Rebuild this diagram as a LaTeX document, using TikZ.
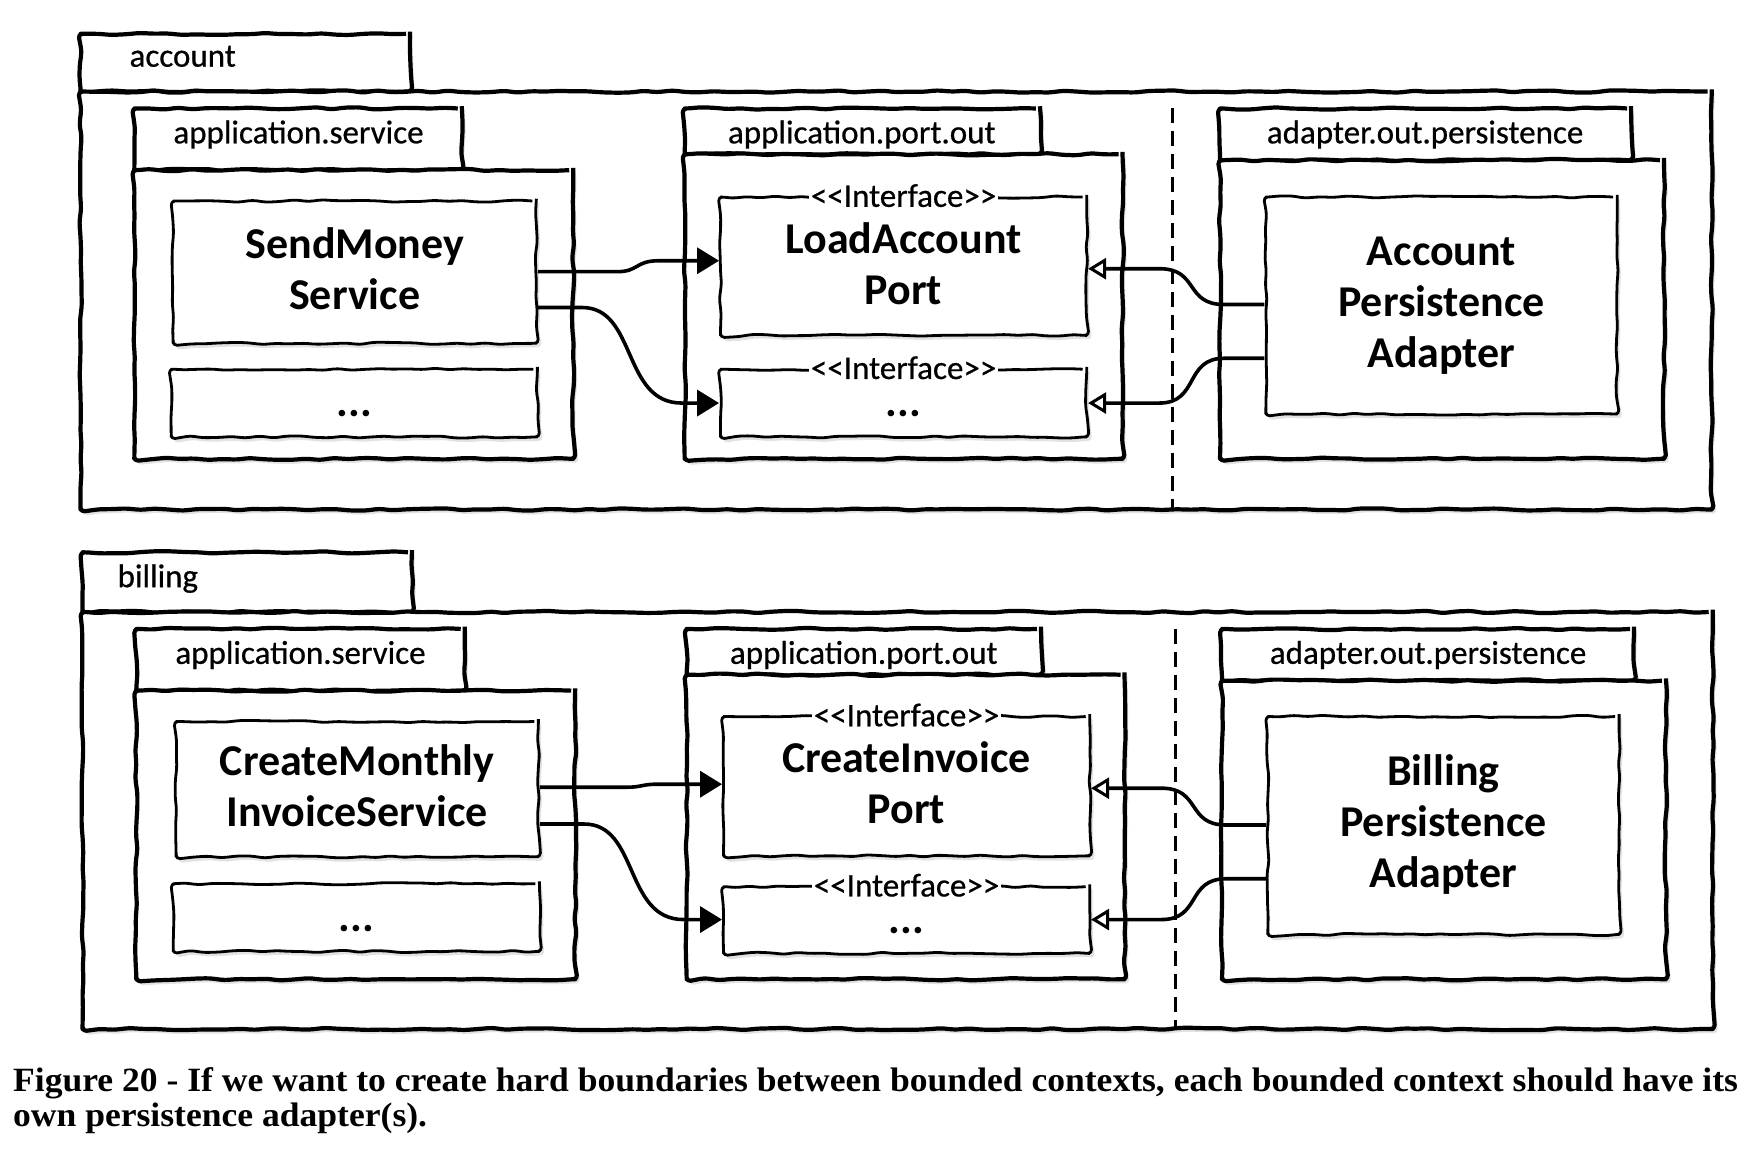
\documentclass[tikz,border=0pt]{standalone}
\usepackage{fontspec}
\newfontfamily\calib{Carlito}
\newfontfamily\calibm{Carlito}[FakeBold=0.6]
\newfontfamily\capfont{Liberation Serif}
\usetikzlibrary{arrows.meta,shadows,fit,decorations.pathmorphing}
\newsavebox\capboxA
\newsavebox\capboxB
\newlength\capw
\begin{document}
\sbox\capboxA{\capfont\bfseries\fontsize{34}{36}\selectfont Figure 20 - If we want to create hard boundaries between bounded contexts, each bounded context should have its}%
\sbox\capboxB{\capfont\bfseries\fontsize{34}{36}\selectfont own persistence adapter(s).}%
\setlength\capw{\wd\capboxA}%
\begin{tikzpicture}[x=1pt,y=-1pt,line join=round,
  sk/.style={decorate,decoration={random steps,segment length=14pt,amplitude=1.2pt},rounded corners=4pt},
  shd/.style={drop shadow={shadow xshift=3pt,shadow yshift=-4pt,fill=black!22}},
  frame/.style={draw,line width=4.2pt,fill=white,inner sep=0pt,sk,shd},
  clsbox/.style={draw,line width=2.8pt,fill=white,inner sep=0pt,sk,shd},
  clstext/.style={inner sep=0pt,align=center,font=\calib\bfseries\fontsize{44}{51}\selectfont},
  pkgname/.style={font=\calibm\fontsize{33}{40}\selectfont,inner sep=0pt},
  iface/.style={fill=white,inner sep=2pt,font=\calibm\fontsize{33}{33}\selectfont},
  flow/.style={line width=3.6pt,-{Triangle[length=22pt,width=26pt]}},
  realize/.style={line width=3.6pt,-{Triangle[open,length=18pt,width=21pt,line width=3pt]}},
  divider/.style={line width=3.5pt,dash pattern=on 15pt off 8pt},
  captext/.style={inner sep=0pt,anchor=base west}
]
\pgfmathsetseed{7}
\pgfmathsetmacro\capsc{1725pt/\capw}
\useasboundingbox[fill=white] (0,0) rectangle (1754,1154);

\begin{scope}[scale=0.9952]
% ================= account =================
\node[frame, fit={(81,34) (412,92)}] (acctab) {};
\node[frame, fit={(81,92) (1720,512)}] (accpkg) {};
\node[pkgname, anchor=base west] (acclbl) at (130,67) {account};
\coordinate (adt) at (1178,109);
\coordinate (adb) at (1178,512);
\draw[divider] (adt) -- (adb);

\node[frame, fit={(135,109) (464,171)}] (asvctab) {};
\node[frame, fit={(135,171) (576,461)}] (asvc) {};
\node[pkgname, anchor=base] (asvclbl) at (300,144) {application.service};

\node[frame, fit={(688,109) (1045,155)}] (aporttab) {};
\node[frame, fit={(688,155) (1128,461)}] (aport) {};
\node[pkgname, anchor=base] (aportlbl) at (866,144) {application.port.out};

\node[frame, fit={(1226,109) (1639,161)}] (aadptab) {};
\node[frame, fit={(1226,161) (1672,461)}] (aadp) {};
\node[pkgname, anchor=base] (aadplbl) at (1432,144) {adapter.out.persistence};

\node[clsbox, fit={(174,202) (539,345)}] (sm) {};
\node[clsbox, fit={(172,371) (540,439)}] (asdots) {};
\node[clsbox, fit={(724,198) (1092,337)}] (lap) {};
\node[clsbox, fit={(724,371) (1092,439)}] (apdots) {};
\node[clsbox, fit={(1272,198) (1625,416)}] (apa) {};
\node[clstext] (smt) at ([yshift=3pt]sm.center) {SendMoney\\Service};
\node[clstext] (asdotst) at ([yshift=-11pt]asdots.center) {...};
\node[clstext] (lapt) at ([yshift=2pt]lap.center) {LoadAccount\\Port};
\node[clstext] (apdotst) at ([yshift=-11pt]apdots.center) {...};
\node[clstext] (apat) at ([yshift=0pt]apa.center) {Account\\Persistence\\Adapter};
\node[iface] (ai1) at (lap.north) {<<Interface>>};
\node[iface] (ai2) at (apdots.north) {<<Interface>>};

\draw[flow] (sm.east |- 0,273) -- (620,273) .. controls (642,273) and (638,262) .. (662,262) -- (lap.west |- 0,262);
\draw[flow] (sm.east |- 0,309) -- (585,309) .. controls (640,309) and (625,405) .. (685,405) -- (apdots.west |- 0,405);
\draw[realize] (apa.west |- 0,306) -- (1230,306) .. controls (1190,306) and (1205,270) .. (1165,270) -- (lap.east |- 0,270);
\draw[realize] (apa.west |- 0,360) -- (1230,360) .. controls (1190,360) and (1205,405) .. (1165,405) -- (apdots.east |- 0,405);

% ================= billing =================
\node[frame, fit={(83,555) (414,615)}] (biltab) {};
\node[frame, fit={(83,615) (1721,1034)}] (bilpkg) {};
\node[pkgname, anchor=base west] (billbl) at (118,590) {billing};
\coordinate (bdt) at (1181,632);
\coordinate (bdb) at (1181,1034);
\draw[divider] (bdt) -- (bdb);

\node[frame, fit={(137,632) (467,694)}] (bsvctab) {};
\node[frame, fit={(137,694) (578,984)}] (bsvc) {};
\node[pkgname, anchor=base] (bsvclbl) at (302,667) {application.service};

\node[frame, fit={(690,632) (1046,678)}] (bporttab) {};
\node[frame, fit={(690,678) (1130,984)}] (bport) {};
\node[pkgname, anchor=base] (bportlbl) at (868,667) {application.port.out};

\node[frame, fit={(1228,632) (1642,684)}] (badptab) {};
\node[frame, fit={(1228,684) (1674,984)}] (badp) {};
\node[pkgname, anchor=base] (badplbl) at (1435,667) {adapter.out.persistence};

\node[clsbox, fit={(177,725) (541,861)}] (cm) {};
\node[clsbox, fit={(174,888) (542,956)}] (bsdots) {};
\node[clsbox, fit={(727,720) (1095,860)}] (ci) {};
\node[clsbox, fit={(727,891) (1095,958)}] (bpdots) {};
\node[clsbox, fit={(1274,720) (1627,939)}] (bpa) {};
\node[clstext] (cmt) at ([yshift=3pt]cm.center) {CreateMonthly\\InvoiceService};
\node[clstext] (bsdotst) at ([yshift=-11pt]bsdots.center) {...};
\node[clstext] (cit) at ([yshift=3pt]ci.center) {CreateInvoice\\Port};
\node[clstext] (bpdotst) at ([yshift=-11pt]bpdots.center) {...};
\node[clstext] (bpat) at ([yshift=1pt]bpa.center) {Billing\\Persistence\\Adapter};
\node[iface] (bi1) at (ci.north) {<<Interface>>};
\node[iface] (bi2) at (bpdots.north) {<<Interface>>};

\draw[flow] (cm.east |- 0,791) -- (630,791) .. controls (645,791) and (645,788) .. (660,788) -- (ci.west |- 0,788);
\draw[flow] (cm.east |- 0,828) -- (587,828) .. controls (642,828) and (627,924) .. (687,924) -- (bpdots.west |- 0,924);
\draw[realize] (bpa.west |- 0,829) -- (1232,829) .. controls (1192,829) and (1207,792) .. (1167,792) -- (ci.east |- 0,792);
\draw[realize] (bpa.west |- 0,883) -- (1232,883) .. controls (1192,883) and (1207,924) .. (1167,924) -- (bpdots.east |- 0,924);

% ================= caption =================
\node[captext] (cap1) at (13,1097) {\scalebox{\capsc}[1]{\usebox\capboxA}};
\node[captext] (cap2) at (13,1132) {\scalebox{\capsc}[1]{\usebox\capboxB}};
\end{scope}
\end{tikzpicture}
\end{document}
